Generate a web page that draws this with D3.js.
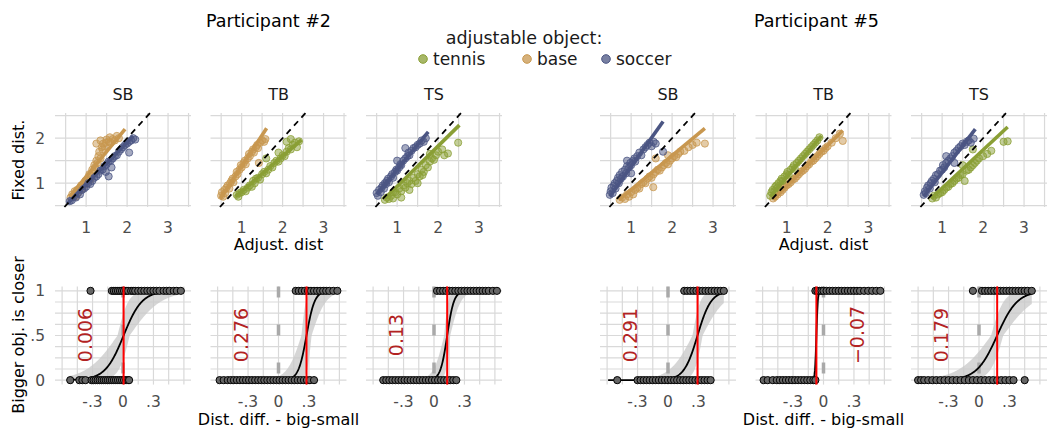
<!DOCTYPE html>
<html>
<head>
<meta charset="utf-8">
<script src="https://cdn.jsdelivr.net/npm/d3@7"></script>
<style>
  body { margin: 0; background: #fff; }
  svg { font-family: "DejaVu Sans", sans-serif; }
</style>
</head>
<body>
<svg id="chart" width="1047" height="434"></svg>
<script>
// ---- labels ----
const participants = ["Participant #2", "Participant #5"];
const conditions = ["SB", "TB", "TS"];
const objects = ["tennis", "base", "soccer"];
const topXTicks = [1, 2, 3];
const topYTicks = [1, 2];
const botXTicks = [-0.3, 0, 0.3];
const botXTickLabels = ["-.3", "0", ".3"];
const botYTicks = [0, 0.5, 1];
const botYTickLabels = ["0", ".5", "1"];

// ---- scatter data [adjusted, fixed] ----
const p2SB_base = [[0.62,0.68],[0.66,0.75],[0.7,0.72],[0.72,0.82],[0.75,0.7],[0.78,0.85],[0.8,0.78],[0.85,0.9],[0.88,0.95],[0.9,0.87],[0.95,1.0],[0.98,1.05],[1.0,0.98],[1.05,1.12],[1.08,1.2],[1.1,1.08],[1.15,1.3],[1.18,1.25],[1.2,1.4],[1.22,1.35],[1.25,1.5],[1.28,1.45],[1.3,1.6],[1.32,1.7],[1.35,1.55],[1.38,1.8],[1.4,1.75],[1.42,1.88],[1.45,1.82],[1.48,1.9],[1.5,1.97],[1.55,1.93],[1.58,2.02],[1.6,1.9],[1.65,1.98],[1.7,1.95],[1.75,2.05],[1.8,2.0],[1.25,1.88],[1.35,1.95]];
const p2SB_soccer = [[0.6,0.6],[0.65,0.62],[0.7,0.7],[0.75,0.68],[0.8,0.78],[0.85,0.75],[0.9,0.85],[0.95,0.88],[1.0,0.92],[1.05,1.0],[1.1,0.98],[1.15,1.05],[1.2,1.12],[1.25,1.15],[1.3,1.2],[1.35,1.28],[1.4,1.3],[1.45,1.38],[1.5,1.42],[1.55,1.15],[1.55,1.48],[1.6,1.5],[1.65,1.55],[1.7,1.6],[1.75,1.62],[1.8,1.7],[1.85,1.75],[1.9,1.8],[1.95,1.85],[2.0,1.88],[2.05,1.68],[2.05,1.92],[2.1,1.95],[2.15,2.0],[2.2,1.97],[1.48,1.25],[1.62,1.35]];
const p2TB_base = [[0.5,0.72],[0.52,0.8],[0.55,0.7],[0.58,0.85],[0.6,0.78],[0.63,0.9],[0.66,0.95],[0.7,0.88],[0.72,1.0],[0.75,1.05],[0.78,1.1],[0.8,1.02],[0.85,1.15],[0.88,1.25],[0.9,1.2],[0.95,1.3],[0.98,1.4],[1.0,1.35],[1.05,1.45],[1.08,1.5],[1.1,1.42],[1.15,1.55],[1.18,1.65],[1.2,1.6],[1.25,1.7],[1.28,1.75],[1.3,1.68],[1.35,1.8],[1.38,1.85],[1.4,1.78],[1.42,1.45],[1.45,1.9],[1.5,1.95],[1.55,1.92],[1.58,1.98]];
const p2TB_tennis = [[0.88,0.74],[0.92,0.7],[0.95,0.78],[1.0,0.8],[1.05,0.85],[1.1,0.82],[1.15,0.9],[1.2,0.95],[1.25,0.92],[1.28,1.05],[1.32,1.0],[1.35,1.1],[1.4,1.12],[1.45,1.08],[1.5,1.2],[1.55,1.25],[1.6,1.22],[1.65,1.3],[1.7,1.38],[1.75,1.35],[1.8,1.45],[1.85,1.5],[1.9,1.48],[1.95,1.55],[2.0,1.62],[2.05,1.6],[2.1,1.7],[2.15,1.78],[2.2,1.75],[2.25,1.85],[2.3,1.9],[2.35,1.8],[2.4,1.93],[2.1,1.92],[2.2,1.98],[1.6,1.55],[1.9,1.68]];
const p2TS_soccer = [[0.5,0.78],[0.53,0.72],[0.56,0.85],[0.6,0.8],[0.62,0.9],[0.65,0.95],[0.68,0.88],[0.7,1.0],[0.73,0.98],[0.75,1.05],[0.78,1.1],[0.8,1.02],[0.85,1.15],[0.88,1.2],[0.9,1.12],[0.95,1.25],[0.98,1.3],[1.0,1.28],[1.05,1.35],[1.08,1.42],[1.1,1.4],[1.15,1.5],[1.2,1.55],[1.25,1.6],[1.28,1.68],[1.3,1.62],[1.35,1.72],[1.4,1.78],[1.45,1.8],[1.5,1.85],[1.55,1.88],[1.6,1.95],[1.65,1.92],[1.7,2.0],[1.2,1.78],[1.0,1.5]];
const p2TS_tennis = [[0.7,0.63],[0.75,0.68],[0.8,0.65],[0.85,0.72],[0.9,0.66],[0.95,0.8],[1.0,0.75],[1.05,0.88],[1.1,0.82],[1.15,0.95],[1.2,0.9],[1.25,1.0],[1.3,1.05],[1.35,0.98],[1.4,1.12],[1.45,1.05],[1.5,1.2],[1.55,1.15],[1.6,1.3],[1.65,1.25],[1.7,1.4],[1.75,1.35],[1.8,1.48],[1.85,1.55],[1.9,1.52],[1.95,1.62],[2.0,1.7],[2.1,1.75],[2.15,1.62],[2.24,1.66],[2.49,1.9],[1.5,1.0],[1.62,1.18],[1.3,0.85],[1.1,0.68],[1.8,1.65],[0.9,0.8]];
const p5SB_soccer = [[0.48,0.74],[0.5,0.82],[0.52,0.9],[0.55,0.78],[0.58,0.95],[0.6,1.0],[0.62,0.88],[0.65,1.05],[0.68,1.12],[0.7,1.0],[0.72,1.18],[0.75,1.1],[0.78,1.25],[0.8,1.15],[0.85,1.3],[0.88,1.22],[0.9,1.38],[0.95,1.35],[0.98,1.45],[1.0,1.4],[1.05,1.5],[1.08,1.55],[1.1,1.48],[1.15,1.6],[1.2,1.68],[1.25,1.62],[1.3,1.75],[1.35,1.8],[1.4,1.85],[1.45,1.9],[1.5,1.82],[1.55,1.92],[1.6,1.88],[1.78,1.7],[1.0,1.22],[0.9,1.5]];
const p5SB_base = [[0.72,0.63],[0.78,0.68],[0.85,0.65],[0.9,0.75],[0.95,0.7],[1.0,0.8],[1.05,0.75],[1.1,0.85],[1.15,0.9],[1.2,0.88],[1.25,0.98],[1.3,1.02],[1.35,1.0],[1.4,1.1],[1.45,1.15],[1.5,1.12],[1.54,0.91],[1.55,1.2],[1.6,1.25],[1.65,1.3],[1.7,1.28],[1.75,1.35],[1.8,1.4],[1.85,1.45],[1.9,1.42],[1.95,1.5],[2.0,1.55],[2.05,1.6],[2.1,1.58],[2.15,1.65],[2.2,1.7],[2.3,1.72],[2.4,1.8],[2.5,1.85],[2.6,1.9],[2.8,1.88],[1.6,1.55],[1.9,1.62]];
const p5TB_tennis = [[0.6,0.72],[0.63,0.8],[0.66,0.85],[0.7,0.82],[0.72,0.92],[0.75,0.95],[0.78,0.9],[0.8,1.0],[0.85,1.05],[0.88,1.1],[0.9,1.05],[0.95,1.15],[1.0,1.2],[1.02,1.25],[1.05,1.18],[1.1,1.3],[1.15,1.35],[1.18,1.4],[1.2,1.32],[1.25,1.45],[1.3,1.5],[1.35,1.55],[1.4,1.6],[1.45,1.65],[1.5,1.7],[1.55,1.75],[1.6,1.8],[1.65,1.85],[1.7,1.9],[1.75,1.95],[1.8,2.02]];
const p5TB_base = [[0.67,0.66],[0.72,0.7],[0.78,0.75],[0.85,0.8],[0.9,0.85],[0.95,0.9],[1.0,0.95],[1.05,0.98],[1.1,1.02],[1.15,1.08],[1.2,1.1],[1.25,1.15],[1.3,1.2],[1.35,1.25],[1.4,1.28],[1.45,1.32],[1.5,1.38],[1.55,1.42],[1.6,1.48],[1.65,1.5],[1.7,1.55],[1.75,1.6],[1.8,1.65],[1.85,1.7],[1.9,1.72],[1.95,1.78],[2.0,1.82],[2.1,1.9],[2.2,2.0],[2.3,2.1],[2.37,1.94]];
const p5TS_soccer = [[0.55,0.74],[0.58,0.82],[0.6,0.78],[0.63,0.9],[0.66,0.95],[0.7,0.88],[0.72,1.0],[0.75,1.05],[0.8,1.1],[0.82,1.02],[0.85,1.18],[0.9,1.2],[0.95,1.28],[1.0,1.3],[1.02,1.4],[1.05,1.35],[1.1,1.45],[1.15,1.5],[1.2,1.55],[1.25,1.6],[1.3,1.68],[1.35,1.72],[1.4,1.78],[1.45,1.82],[1.5,1.88],[1.55,1.85],[1.6,1.92],[1.65,1.95],[1.7,1.9],[1.77,1.99],[1.3,1.45],[1.1,1.6]];
const p5TS_tennis = [[0.76,0.66],[0.8,0.72],[0.85,0.68],[0.9,0.75],[0.95,0.78],[1.0,0.8],[1.05,0.85],[1.1,0.9],[1.15,0.92],[1.2,0.98],[1.25,1.0],[1.3,1.05],[1.35,1.1],[1.4,1.12],[1.45,1.18],[1.5,1.2],[1.55,1.05],[1.6,1.28],[1.65,1.3],[1.7,1.35],[1.75,1.4],[1.8,1.45],[1.85,1.5],[1.9,1.55],[2.0,1.6],[2.1,1.65],[2.2,1.72],[2.5,1.92],[2.6,1.93],[1.75,1.75],[1.5,1.4]];

// ---- regression fits [x1, y1, x2, y2] ----
const fitP2SB_base = [0.6, 0.7, 1.95, 2.2];
const fitP2SB_soccer = [0.55, 0.55, 2.15, 2.05];
const fitP2TB_base = [0.48, 0.66, 1.61, 2.22];
const fitP2TB_tennis = [0.85, 0.7, 2.46, 1.96];
const fitP2TS_soccer = [0.5, 0.75, 1.76, 2.14];
const fitP2TS_tennis = [0.7, 0.66, 2.52, 2.29];
const fitP5SB_soccer = [0.48, 0.7, 1.78, 2.37];
const fitP5SB_base = [0.7, 0.63, 2.8, 2.22];
const fitP5TB_tennis = [0.6, 0.7, 1.85, 2.05];
const fitP5TB_base = [0.67, 0.64, 2.37, 2.17];
const fitP5TS_soccer = [0.55, 0.7, 1.81, 2.2];
const fitP5TS_tennis = [0.73, 0.66, 2.6, 2.25];

// ---- psychometric data: x of trials answered 0 / 1 ----
const p2SB_zeros = [-0.52,-0.43,-0.4,-0.37,-0.31,-0.29,-0.27,-0.25,-0.23,-0.21,-0.19,-0.17,-0.15,-0.13,-0.11,-0.09,-0.07,-0.05,-0.03,-0.01,0.01,0.03,0.05,0.06];
const p2SB_ones = [-0.32,-0.11,-0.09,-0.07,-0.05,-0.03,-0.01,0.01,0.03,0.05,0.08,0.1,0.12,0.15,0.18,0.21,0.24,0.27,0.3,0.33,0.36,0.4,0.43,0.46,0.5,0.53,0.57];
const p2TB_zeros = [-0.58,-0.54,-0.5,-0.47,-0.44,-0.41,-0.38,-0.35,-0.32,-0.29,-0.26,-0.23,-0.2,-0.17,-0.14,-0.11,-0.08,-0.05,-0.02,0.01,0.04,0.07,0.1,0.13,0.16,0.19,0.22,0.25,0.28,0.31,0.35];
const p2TB_ones = [0.17,0.2,0.23,0.26,0.29,0.32,0.35,0.38,0.41,0.44,0.47,0.5,0.54,0.58];
const p2TS_zeros = [-0.5,-0.47,-0.44,-0.41,-0.38,-0.35,-0.32,-0.29,-0.26,-0.23,-0.2,-0.17,-0.14,-0.11,-0.08,-0.05,-0.02,0.01,0.04,0.07,0.1,0.13,0.16,0.19,0.22];
const p2TS_ones = [0.03,0.06,0.09,0.12,0.15,0.18,0.21,0.24,0.27,0.3,0.33,0.36,0.39,0.42,0.45,0.48,0.51,0.54,0.58,0.62];
const p5SB_zeros = [-0.5,-0.3,-0.27,-0.24,-0.21,-0.18,-0.15,-0.12,-0.09,-0.06,-0.03,0.0,0.03,0.06,0.09,0.12,0.15,0.18,0.21,0.24,0.27,0.3,0.33,0.36,0.39,0.42];
const p5SB_ones = [0.16,0.19,0.22,0.25,0.28,0.31,0.34,0.37,0.4,0.43,0.46,0.49,0.52,0.55];
const p5TB_zeros = [-0.59,-0.55,-0.5,-0.46,-0.43,-0.4,-0.37,-0.34,-0.31,-0.28,-0.25,-0.22,-0.19,-0.16,-0.13,-0.1,-0.08];
const p5TB_ones = [-0.08,-0.06,-0.04,-0.02,0.0,0.03,0.06,0.09,0.12,0.15,0.18,0.21,0.24,0.27,0.3,0.33,0.36,0.4,0.44,0.48,0.52,0.56];
const p5TS_zeros = [-0.6,-0.57,-0.54,-0.5,-0.46,-0.42,-0.38,-0.34,-0.3,-0.26,-0.22,-0.18,-0.14,-0.1,-0.06,-0.02,0.02,0.06,0.1,0.14,0.18,0.22,0.26,0.3,0.34,0.45];
const p5TS_ones = [-0.06,0.03,0.06,0.09,0.12,0.15,0.18,0.21,0.24,0.27,0.3,0.33,0.36,0.39,0.42,0.45,0.48,0.52];

// logistic fit per participant x condition
const pseValues = [[0.006, 0.276, 0.13], [0.291, -0.07, 0.179]];
const pseLabels = [["0.006", "0.276", "0.13"], ["0.291", "\u22120.07", "0.179"]];
const slopes = [[11, 25, 30], [15, 150, 10]];
const ciShift = [[0.06, 0.05, 0.03], [0.05, 0.01, 0.06]];
const ciSlopeRatio = [[1.7, 1.8, 1.6], [1.7, 1.3, 1.6]];
const curveRanges = [[[-0.52, 0.57], [-0.58, 0.58], [-0.5, 0.62]], [[-0.59, 0.55], [-0.59, 0.56], [-0.6, 0.52]]];

// ---- tables built from the arrays ----
const scatterPanels = [
  [[["base", p2SB_base, fitP2SB_base], ["soccer", p2SB_soccer, fitP2SB_soccer]],
   [["tennis", p2TB_tennis, fitP2TB_tennis], ["base", p2TB_base, fitP2TB_base]],
   [["tennis", p2TS_tennis, fitP2TS_tennis], ["soccer", p2TS_soccer, fitP2TS_soccer]]],
  [[["base", p5SB_base, fitP5SB_base], ["soccer", p5SB_soccer, fitP5SB_soccer]],
   [["base", p5TB_base, fitP5TB_base], ["tennis", p5TB_tennis, fitP5TB_tennis]],
   [["tennis", p5TS_tennis, fitP5TS_tennis], ["soccer", p5TS_soccer, fitP5TS_soccer]]]
];
const binaryPanels = [
  [[p2SB_zeros, p2SB_ones], [p2TB_zeros, p2TB_ones], [p2TS_zeros, p2TS_ones]],
  [[p5SB_zeros, p5SB_ones], [p5TB_zeros, p5TB_ones], [p5TS_zeros, p5TS_ones]]
];

// ---- styling / layout ----
const colors = { tennis: "#8a9f35", base: "#c8974f", soccer: "#4b5583" };
const panelLeft = [55, 600];
const panelStep = 155.5;
const panelW = 136;
const gridColor = "#d9d9d9";
const tickColor = "#4d4d4d";

const svg = d3.select("#chart");

const xTop = d3.scaleLinear().domain([0.24, 3.56]).range([0, panelW]);
const yTop = d3.scaleLinear().domain([0.47, 2.56]).range([207, 113]);
const xBot = d3.scaleLinear().domain([-0.67, 0.67]).range([0, panelW]);
const yBot = d3.scaleLinear().domain([-0.05, 1.05]).range([384.6, 286.4]);

const logistic = (x, k, m) => 1 / (1 + Math.exp(-k * (x - m)));

function drawGrid(g, xs, ys, xScale, yScale) {
  const [y0, y1] = yScale.range();
  g.selectAll(null).data(xs).join("line")
    .attr("x1", d => xScale(d)).attr("x2", d => xScale(d))
    .attr("y1", y0).attr("y2", y1)
    .attr("stroke", gridColor).attr("stroke-width", 1.2);
  g.selectAll(null).data(ys).join("line")
    .attr("x1", 0).attr("x2", panelW)
    .attr("y1", d => yScale(d)).attr("y2", d => yScale(d))
    .attr("stroke", gridColor).attr("stroke-width", 1.2);
}

// titles & legend
participants.forEach((p, pi) => {
  const cx = panelLeft[pi] + panelStep + panelW / 2;
  svg.append("text").attr("x", cx - 10 + pi * 3).attr("y", 27)
    .attr("text-anchor", "middle").style("font-size", "17.5px").attr("fill", "#000").text(p);
});

svg.append("text").attr("x", 524).attr("y", 44).attr("text-anchor", "middle")
  .style("font-size", "17.5px").attr("fill", "#1a1a1a").text("adjustable object:");

const legendX = [423, 527, 606];
objects.forEach((o, i) => {
  svg.append("circle").attr("cx", legendX[i]).attr("cy", 59).attr("r", 4.3)
    .attr("fill", colors[o]).attr("fill-opacity", 0.75).attr("stroke", colors[o]);
  svg.append("text").attr("x", legendX[i] + 10).attr("y", 65)
    .style("font-size", "17px").attr("fill", "#1a1a1a").text(o);
});

// panels
participants.forEach((p, pi) => {
  conditions.forEach((cond, ci) => {
    const left = panelLeft[pi] + ci * panelStep;

    // facet label
    svg.append("text").attr("x", left + panelW / 2).attr("y", 100)
      .attr("text-anchor", "middle").style("font-size", "16px").attr("fill", "#1a1a1a").text(cond);

    // --- top scatter panel ---
    const gt = svg.append("g").attr("transform", `translate(${left},0)`);
    drawGrid(gt, d3.range(0.5, 3.51, 0.5), d3.range(0.5, 2.51, 0.5), xTop, yTop);

    // identity line clipped to the panel
    const lo = Math.max(xTop.domain()[0], yTop.domain()[0]);
    const hi = Math.min(xTop.domain()[1], yTop.domain()[1]);
    const series = scatterPanels[pi][ci];
    series.forEach(([obj, pts]) => {
      gt.selectAll(null).data(pts).join("circle")
        .attr("cx", d => xTop(d[0])).attr("cy", d => yTop(d[1])).attr("r", 3.6)
        .attr("fill", colors[obj]).attr("fill-opacity", 0.5)
        .attr("stroke", colors[obj]).attr("stroke-opacity", 0.85).attr("stroke-width", 0.9);
    });
    series.forEach(([obj, pts, fit]) => {
      gt.append("line")
        .attr("x1", xTop(fit[0])).attr("y1", yTop(fit[1]))
        .attr("x2", xTop(fit[2])).attr("y2", yTop(fit[3]))
        .attr("stroke", colors[obj]).attr("stroke-width", 3.6);
    });
    gt.append("line")
      .attr("x1", xTop(lo)).attr("y1", yTop(lo)).attr("x2", xTop(hi)).attr("y2", yTop(hi))
      .attr("stroke", "#000").attr("stroke-width", 1.8).attr("stroke-dasharray", "6,5");

    gt.selectAll(null).data(topXTicks).join("text")
      .attr("x", d => xTop(d)).attr("y", 233).attr("text-anchor", "middle")
      .style("font-size", "15.5px").attr("fill", tickColor).text(d => d);

    // --- bottom psychometric panel ---
    const gb = svg.append("g").attr("transform", `translate(${left},0)`);
    drawGrid(gb, d3.range(-0.6, 0.61, 0.15), d3.range(0, 1.001, 0.125), xBot, yBot);

    const k = slopes[pi][ci], m = pseValues[pi][ci];
    const dS = ciShift[pi][ci], a = ciSlopeRatio[pi][ci];
    const [r0, r1] = curveRanges[pi][ci];
    const xs = d3.range(r0, r1 + 1e-9, (r1 - r0) / 300);

    const band = xs.map(x => {
      const vals = [logistic(x, k * a, m - dS), logistic(x, k * a, m + dS),
                    logistic(x, k / a, m - dS), logistic(x, k / a, m + dS)];
      return { x, lo: d3.min(vals), hi: d3.max(vals) };
    });
    gb.append("path").datum(band)
      .attr("d", d3.area().x(d => xBot(d.x)).y0(d => yBot(d.lo)).y1(d => yBot(d.hi)))
      .attr("fill", "#c8c8c8").attr("fill-opacity", 0.75);

    gb.append("line")
      .attr("x1", xBot(0)).attr("x2", xBot(0)).attr("y1", yBot.range()[1]).attr("y2", yBot.range()[0])
      .attr("stroke", "#a9a9a9").attr("stroke-width", 3.5).attr("stroke-dasharray", "11,27");

    gb.append("path").datum(xs)
      .attr("d", d3.line().x(d => xBot(d)).y(d => yBot(logistic(d, k, m))))
      .attr("fill", "none").attr("stroke", "#000").attr("stroke-width", 1.8);

    const [zeros, ones] = binaryPanels[pi][ci];
    const pts = zeros.map(x => [x, 0]).concat(ones.map(x => [x, 1]));
    gb.selectAll(null).data(pts).join("circle")
      .attr("cx", d => xBot(d[0])).attr("cy", d => yBot(d[1])).attr("r", 3.6)
      .attr("fill", "#666").attr("stroke", "#000").attr("stroke-width", 1);

    gb.append("line")
      .attr("x1", xBot(m)).attr("x2", xBot(m)).attr("y1", yBot.range()[1]).attr("y2", yBot.range()[0])
      .attr("stroke", "#ff0000").attr("stroke-width", 2);

    const lx = xBot(m < 0 ? 0.33 : -0.37);
    gb.append("text")
      .attr("transform", `translate(${lx},335) rotate(-90)`)
      .attr("text-anchor", "middle").attr("dy", "0.35em")
      .style("font-size", "19px").attr("fill", "#b22222").text(pseLabels[pi][ci]);

    gb.selectAll(null).data(botXTicks).join("text")
      .attr("x", d => xBot(d)).attr("y", 407).attr("text-anchor", "middle")
      .style("font-size", "15.5px").attr("fill", tickColor).text((d, i) => botXTickLabels[i]);

    // y axes only on the very first column
    if (pi === 0 && ci === 0) {
      gt.selectAll(null).data(topYTicks).join("text")
        .attr("x", -10).attr("y", d => yTop(d)).attr("dy", "0.36em").attr("text-anchor", "end")
        .style("font-size", "15.5px").attr("fill", tickColor).text(d => d);
      gb.selectAll(null).data(botYTicks).join("text")
        .attr("x", -10).attr("y", d => yBot(d)).attr("dy", "0.36em").attr("text-anchor", "end")
        .style("font-size", "15.5px").attr("fill", tickColor).text((d, i) => botYTickLabels[i]);
    }
  });

  // axis titles
  const midX = panelLeft[pi] + panelStep + panelW / 2;
  svg.append("text").attr("x", midX).attr("y", 250).attr("text-anchor", "middle")
    .style("font-size", "16px").attr("fill", "#000").text("Adjust. dist");
  svg.append("text").attr("x", midX).attr("y", 425).attr("text-anchor", "middle")
    .style("font-size", "16px").attr("fill", "#000").text("Dist. diff. - big-small");
});

svg.append("text").attr("transform", "translate(24,160) rotate(-90)")
  .attr("text-anchor", "middle").style("font-size", "16px").attr("fill", "#000").text("Fixed dist.");
svg.append("text").attr("transform", "translate(24,335) rotate(-90)")
  .attr("text-anchor", "middle").style("font-size", "16px").attr("fill", "#000").text("Bigger obj. is closer");
</script>
</body>
</html>
